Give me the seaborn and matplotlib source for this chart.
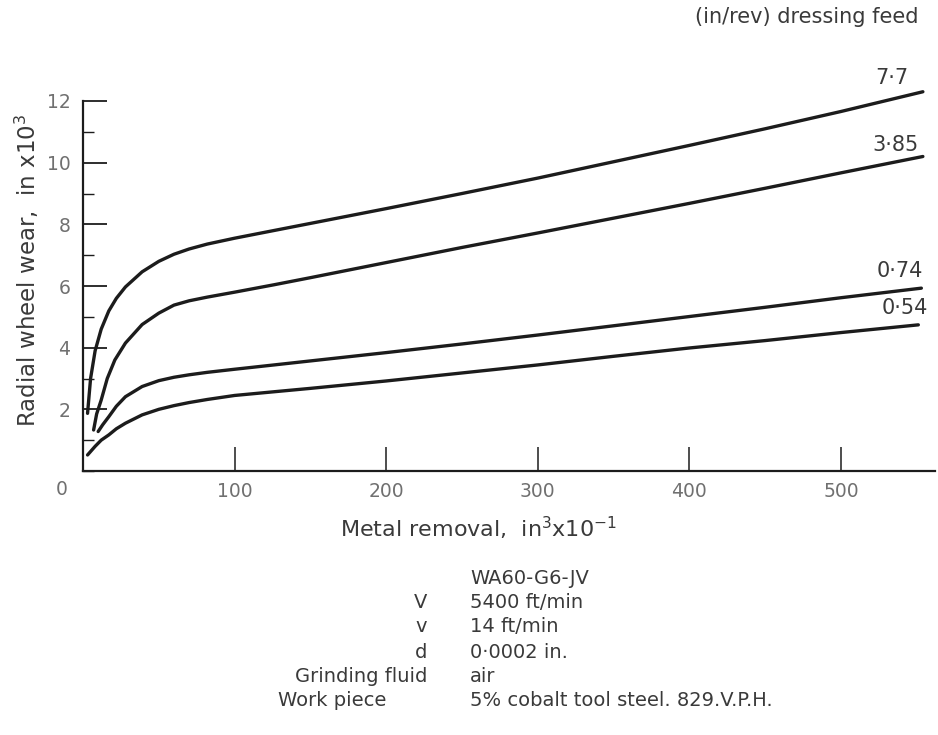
import matplotlib
matplotlib.use("Agg")
import matplotlib.pyplot as plt
from matplotlib.ticker import MultipleLocator
import pandas as pd
import seaborn as sns

# Radial wheel wear (in x 10^3) against metal removal, one curve per dressing feed
feed_labels = ["7·7", "3·85", "0·74", "0·54"]

removal_77 = [3, 5, 8, 12, 17, 22, 28, 39, 50, 60, 70, 82, 100, 126, 150, 200,
              250, 300, 350, 400, 450, 500, 554]
wear_77 = [1.87, 3.0, 3.9, 4.6, 5.19, 5.6, 5.97, 6.46, 6.8, 7.03, 7.2, 7.36, 7.55,
           7.8, 8.03, 8.51, 9.0, 9.5, 10.03, 10.56, 11.1, 11.66, 12.3]

removal_385 = [7, 9, 12, 16, 21, 28, 39, 50, 60, 70, 82, 100, 126, 150, 200,
               250, 300, 350, 400, 450, 500, 554]
wear_385 = [1.33, 1.85, 2.3, 3.0, 3.6, 4.15, 4.75, 5.12, 5.38, 5.52, 5.64, 5.8,
            6.04, 6.27, 6.76, 7.25, 7.72, 8.2, 8.68, 9.17, 9.67, 10.2]

removal_074 = [10, 13, 17, 22, 28, 39, 50, 60, 70, 82, 100, 126, 150, 200, 250,
               300, 350, 400, 450, 500, 553]
wear_074 = [1.28, 1.5, 1.76, 2.1, 2.41, 2.74, 2.93, 3.04, 3.12, 3.2, 3.3, 3.44,
            3.57, 3.84, 4.12, 4.41, 4.71, 5.01, 5.31, 5.62, 5.93]

removal_054 = [3, 8, 12, 17, 22, 28, 39, 50, 60, 70, 82, 100, 126, 150, 200, 250,
               300, 350, 400, 450, 500, 551]
wear_054 = [0.52, 0.8, 1.0, 1.17, 1.37, 1.55, 1.82, 2.0, 2.12, 2.22, 2.32, 2.45,
            2.57, 2.68, 2.92, 3.18, 3.44, 3.72, 3.99, 4.23, 4.49, 4.74]

x_ticks = [100, 200, 300, 400, 500]
y_ticks = [2, 4, 6, 8, 10, 12]

conditions_keys = ["", "V", "v", "d", "Grinding fluid", "Work piece"]
conditions_vals = ["WA60-G6-JV", "5400 ft/min", "14 ft/min", "0·0002 in.",
                   "air", "5% cobalt tool steel. 829.V.P.H."]

frames = []
for lab, xs, ys in zip(feed_labels,
                       [removal_77, removal_385, removal_074, removal_054],
                       [wear_77, wear_385, wear_074, wear_054]):
    frames.append(pd.DataFrame({"removal": xs, "wear": ys, "feed": lab}))
df = pd.concat(frames, ignore_index=True)

sns.set_theme(style="ticks")
plt.rcParams["font.family"] = ["DejaVu Sans"]
txt = "#3a3a3a"
tick_txt = "#707070"
ink = "#1c1c1c"

fig = plt.figure(figsize=(9.38, 7.35), dpi=100)
fig.patch.set_facecolor("white")
ax = fig.add_axes([83 / 938, 1 - 471 / 735, (935 - 83) / 938, (471 - 101) / 735])
ax.set_facecolor("white")

sns.lineplot(data=df, x="removal", y="wear", units="feed", estimator=None,
             sort=False, color=ink, linewidth=2.4, ax=ax, legend=False)
for line in ax.lines:
    line.set_clip_on(False)
    line.set_solid_capstyle("round")
    line.set_solid_joinstyle("round")

ax.set_xlim(0, 562)
ax.set_ylim(0, 12)
sns.despine(ax=ax)
for s in ("left", "bottom"):
    ax.spines[s].set_linewidth(1.6)
    ax.spines[s].set_color(ink)

ax.set_xticks(x_ticks)
ax.set_xticklabels([str(t) for t in x_ticks])
ax.set_yticks(y_ticks)
ax.set_yticklabels([str(t) for t in y_ticks])
ax.yaxis.set_minor_locator(MultipleLocator(1))
ax.tick_params(axis="x", direction="in", length=17, width=1.1, color=ink,
               labelsize=13.5, labelcolor=tick_txt, pad=8)
ax.tick_params(axis="y", which="major", direction="in", length=17, width=1.3,
               color=ink, labelsize=13.5, labelcolor=tick_txt, pad=9)
ax.tick_params(axis="y", which="minor", direction="in", length=8, width=1.0,
               color=ink)
ax.text(-14, -0.6, "0", ha="center", va="center", fontsize=13.5,
        color=tick_txt, transform=ax.transData, clip_on=False)

ax.set_xlabel("")
ax.set_ylabel("")
fig.text(478 / 938, 1 - 528 / 735, "Metal removal,  in$^3$x10$^{-1}$",
         ha="center", va="center", fontsize=16, color=txt)
fig.text(27 / 938, 1 - 270 / 735, "Radial wheel wear,  in x10$^3$",
         rotation=90, ha="center", va="center", fontsize=16.5, color=txt)

# curve labels at the right-hand ends
label_pos = {"7·7": (892, 78), "3·85": (895, 145), "0·74": (900, 271), "0·54": (905, 308)}
for lab, (px, py) in label_pos.items():
    fig.text(px / 938, 1 - py / 735, lab, ha="center", va="center",
             fontsize=15, color=txt)
fig.text(918 / 938, 1 - 17 / 735, "(in/rev) dressing feed", ha="right",
         va="center", fontsize=15, color=txt)

# test conditions block
row_y = [578, 602, 627, 652, 676, 700]
for key, val, y in zip(conditions_keys, conditions_vals, row_y):
    if key == "Work piece":
        fig.text(278 / 938, 1 - y / 735, key, ha="left", va="center",
                 fontsize=14, color=txt)
    elif key:
        fig.text(427 / 938, 1 - y / 735, key, ha="right", va="center",
                 fontsize=14, color=txt)
    fig.text(470 / 938, 1 - y / 735, val, ha="left", va="center",
             fontsize=14, color=txt)

fig.savefig("out.png", dpi=100, facecolor="white")
